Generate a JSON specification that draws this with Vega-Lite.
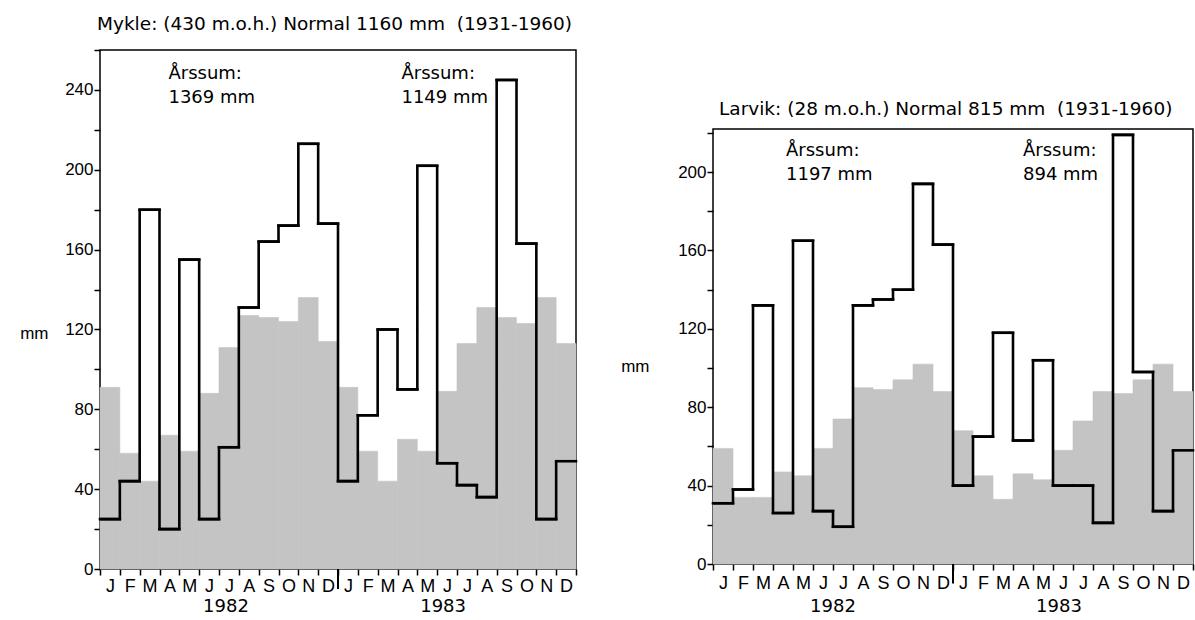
{
  "$schema": "https://vega.github.io/schema/vega-lite/v6.json",
  "background": "white",
  "padding": {"left": 18, "top": 14, "right": 2, "bottom": 2},
  "spacing": 32,
  "config": {
    "font": "Liberation Sans",
    "view": {"stroke": "black", "strokeWidth": 1.5},
    "axis": {"grid": false, "domain": false, "tickColor": "black", "tickWidth": 1.5, "tickSize": 6, "labelColor": "black", "labelFontSize": 17, "titleFontSize": 17, "titleFontWeight": "normal", "titleColor": "black", "labelFont": "Liberation Sans", "titleFont": "Liberation Sans"},
    "title": {"fontSize": 18.5, "fontWeight": "normal", "font": "DejaVu Sans", "anchor": "start", "frame": "group", "color": "black"},
    "text": {"font": "DejaVu Sans", "fontSize": 18, "color": "black"}
  },
  "datasets": {
    "mykle": [
      {"m": 0, "end": 1, "normal": 91, "actual": 25},
      {"m": 1, "end": 2, "normal": 58, "actual": 44},
      {"m": 2, "end": 3, "normal": 44, "actual": 180},
      {"m": 3, "end": 4, "normal": 67, "actual": 20},
      {"m": 4, "end": 5, "normal": 59, "actual": 155},
      {"m": 5, "end": 6, "normal": 88, "actual": 25},
      {"m": 6, "end": 7, "normal": 111, "actual": 61},
      {"m": 7, "end": 8, "normal": 127, "actual": 131},
      {"m": 8, "end": 9, "normal": 126, "actual": 164},
      {"m": 9, "end": 10, "normal": 124, "actual": 172},
      {"m": 10, "end": 11, "normal": 136, "actual": 213},
      {"m": 11, "end": 12, "normal": 114, "actual": 173},
      {"m": 12, "end": 13, "normal": 91, "actual": 44},
      {"m": 13, "end": 14, "normal": 59, "actual": 77},
      {"m": 14, "end": 15, "normal": 44, "actual": 120},
      {"m": 15, "end": 16, "normal": 65, "actual": 90},
      {"m": 16, "end": 17, "normal": 59, "actual": 202},
      {"m": 17, "end": 18, "normal": 89, "actual": 53},
      {"m": 18, "end": 19, "normal": 113, "actual": 42},
      {"m": 19, "end": 20, "normal": 131, "actual": 36},
      {"m": 20, "end": 21, "normal": 126, "actual": 245},
      {"m": 21, "end": 22, "normal": 123, "actual": 163},
      {"m": 22, "end": 23, "normal": 136, "actual": 25},
      {"m": 23, "end": 24, "normal": 113, "actual": 54}
    ],
    "larvik": [
      {"m": 0, "end": 1, "normal": 59, "actual": 31},
      {"m": 1, "end": 2, "normal": 34, "actual": 38},
      {"m": 2, "end": 3, "normal": 34, "actual": 132},
      {"m": 3, "end": 4, "normal": 47, "actual": 26},
      {"m": 4, "end": 5, "normal": 45, "actual": 165},
      {"m": 5, "end": 6, "normal": 59, "actual": 27},
      {"m": 6, "end": 7, "normal": 74, "actual": 19},
      {"m": 7, "end": 8, "normal": 90, "actual": 132},
      {"m": 8, "end": 9, "normal": 89, "actual": 135},
      {"m": 9, "end": 10, "normal": 94, "actual": 140},
      {"m": 10, "end": 11, "normal": 102, "actual": 194},
      {"m": 11, "end": 12, "normal": 88, "actual": 163},
      {"m": 12, "end": 13, "normal": 68, "actual": 40},
      {"m": 13, "end": 14, "normal": 45, "actual": 65},
      {"m": 14, "end": 15, "normal": 33, "actual": 118},
      {"m": 15, "end": 16, "normal": 46, "actual": 63},
      {"m": 16, "end": 17, "normal": 43, "actual": 104},
      {"m": 17, "end": 18, "normal": 58, "actual": 40},
      {"m": 18, "end": 19, "normal": 73, "actual": 40},
      {"m": 19, "end": 20, "normal": 88, "actual": 21},
      {"m": 20, "end": 21, "normal": 87, "actual": 219},
      {"m": 21, "end": 22, "normal": 94, "actual": 98},
      {"m": 22, "end": 23, "normal": 102, "actual": 27},
      {"m": 23, "end": 24, "normal": 88, "actual": 58}
    ]
  },
  "hconcat": [
    {
      "width": 476,
      "height": 519,
      "title": {"text": "Mykle: (430 m.o.h.) Normal 1160 mm\u00a0\u00a0(1931-1960)", "offset": 16, "dx": -3},
      "data": {"name": "mykle"},
      "encoding": {
        "x": {"type": "quantitative", "scale": {"domain": [0, 24], "nice": false, "zero": false},
          "axis": {"title": null, "values": [0,1,2,3,4,5,6,7,8,9,10,11,12,13,14,15,16,17,18,19,20,21,22,23,24], "labelOffset": 9.9, "labelPadding": 2, "labelFontSize": 18, "labelOverlap": false, "labelFlush": false, "labelBound": false,
            "labelExpr": "datum.value < 24 ? ['J','F','M','A','M','J','J','A','S','O','N','D'][datum.value % 12] : ''"}},
        "y": {"type": "quantitative", "scale": {"domain": [0, 260], "nice": false},
          "axis": {"title": "mm", "titleAngle": 0, "titleAlign": "right", "titleBaseline": "middle", "titleX": -52, "titleY": 283,
            "values": [0,20,40,60,80,100,120,140,160,180,200,220,240,260], "labelPadding": 1,
            "labelExpr": "datum.value % 40 == 0 && datum.value < 260 ? datum.label : ''"}}
      },
      "layer": [
        {"mark": {"type": "rect", "color": "#c4c4c4", "stroke": "#c4c4c4", "strokeWidth": 0.6},
         "encoding": {"x": {"field": "m"}, "x2": {"field": "end"}, "y": {"field": "normal"}, "y2": {"datum": 0}}},
        {"mark": {"type": "line", "interpolate": "step-after", "color": "black", "strokeWidth": 2.6},
         "encoding": {"x": {"field": "m"}, "y": {"field": "actual"}}},
        {"mark": {"type": "rule", "color": "black", "strokeWidth": 2.6, "strokeCap": "square"},
         "encoding": {"x": {"field": "m"}, "x2": {"field": "end"}, "y": {"field": "actual"}}},
        {"data": {"values": [{}]},
         "mark": {"type": "rule", "color": "black", "strokeWidth": 2},
         "encoding": {"x": {"datum": 12}, "y": {"datum": 0}, "y2": {"datum": -10}}},
        {"data": {"values": [{}]},
         "mark": {"type": "text", "text": ["Årssum:", "1369 mm"], "align": "left", "baseline": "middle", "lineHeight": 24},
         "encoding": {"x": {"datum": 3.45}, "y": {"datum": 248}}},
        {"data": {"values": [{}]},
         "mark": {"type": "text", "text": ["Årssum:", "1149 mm"], "align": "left", "baseline": "middle", "lineHeight": 24},
         "encoding": {"x": {"datum": 15.2}, "y": {"datum": 248}}},
        {"data": {"values": [{}]},
         "mark": {"type": "text", "text": "1982", "align": "center", "baseline": "middle", "dy": 38},
         "encoding": {"x": {"datum": 6.35}, "y": {"datum": 0}}},
        {"data": {"values": [{}]},
         "mark": {"type": "text", "text": "1983", "align": "center", "baseline": "middle", "dy": 38},
         "encoding": {"x": {"datum": 17.3}, "y": {"datum": 0}}}
      ]
    },
    {
      "spacing": 20,
      "vconcat": [
        {"width": 480, "height": 28, "data": {"values": []}, "mark": "point", "view": {"stroke": null}},
        {
          "width": 480,
          "height": 435,
          "title": {"text": "Larvik: (28 m.o.h.) Normal 815 mm\u00a0\u00a0(1931-1960)", "offset": 11, "dx": 6},
          "data": {"name": "larvik"},
          "encoding": {
            "x": {"type": "quantitative", "scale": {"domain": [0, 24], "nice": false, "zero": false},
              "axis": {"title": null, "values": [0,1,2,3,4,5,6,7,8,9,10,11,12,13,14,15,16,17,18,19,20,21,22,23,24], "labelOffset": 10, "labelPadding": 4, "labelFontSize": 18, "labelOverlap": false, "labelFlush": false, "labelBound": false,
                "labelExpr": "datum.value < 24 ? ['J','F','M','A','M','J','J','A','S','O','N','D'][datum.value % 12] : ''"}},
            "y": {"type": "quantitative", "scale": {"domain": [0, 222], "nice": false},
              "axis": {"title": "mm", "titleAngle": 0, "titleAlign": "right", "titleBaseline": "middle", "titleX": -64, "titleY": 237,
                "values": [0,20,40,60,80,100,120,140,160,180,200,220], "labelPadding": 1,
                "labelExpr": "datum.value % 40 == 0 ? datum.label : ''"}}
          },
          "layer": [
            {"mark": {"type": "rect", "color": "#c4c4c4", "stroke": "#c4c4c4", "strokeWidth": 0.6},
             "encoding": {"x": {"field": "m"}, "x2": {"field": "end"}, "y": {"field": "normal"}, "y2": {"datum": 0}}},
            {"mark": {"type": "line", "interpolate": "step-after", "color": "black", "strokeWidth": 2.6},
             "encoding": {"x": {"field": "m"}, "y": {"field": "actual"}}},
            {"mark": {"type": "rule", "color": "black", "strokeWidth": 2.6, "strokeCap": "square"},
             "encoding": {"x": {"field": "m"}, "x2": {"field": "end"}, "y": {"field": "actual"}}},
            {"data": {"values": [{}]},
             "mark": {"type": "rule", "color": "black", "strokeWidth": 2},
             "encoding": {"x": {"datum": 12}, "y": {"datum": 0}, "y2": {"datum": -10}}},
            {"data": {"values": [{}]},
             "mark": {"type": "text", "text": ["Årssum:", "1197 mm"], "align": "left", "baseline": "middle", "lineHeight": 24},
             "encoding": {"x": {"datum": 3.65}, "y": {"datum": 211}}},
            {"data": {"values": [{}]},
             "mark": {"type": "text", "text": ["Årssum:", "894 mm"], "align": "left", "baseline": "middle", "lineHeight": 24},
             "encoding": {"x": {"datum": 15.5}, "y": {"datum": 211}}},
            {"data": {"values": [{}]},
             "mark": {"type": "text", "text": "1982", "align": "center", "baseline": "middle", "dy": 43},
             "encoding": {"x": {"datum": 6.0}, "y": {"datum": 0}}},
            {"data": {"values": [{}]},
             "mark": {"type": "text", "text": "1983", "align": "center", "baseline": "middle", "dy": 43},
             "encoding": {"x": {"datum": 17.3}, "y": {"datum": 0}}}
          ]
        }
      ]
    }
  ]
}
